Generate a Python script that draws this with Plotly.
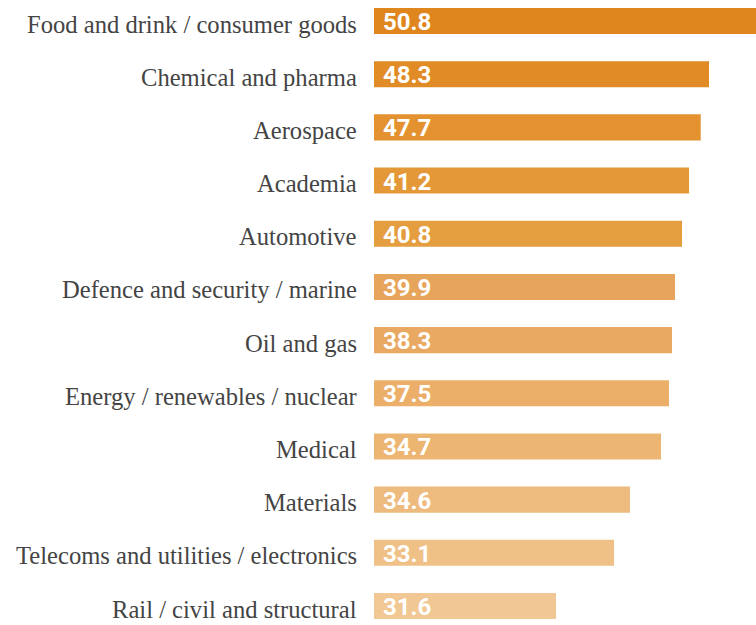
import plotly.graph_objects as go

categories = [
    "Food and drink / consumer goods",
    "Chemical and pharma",
    "Aerospace",
    "Academia",
    "Automotive",
    "Defence and security / marine",
    "Oil and gas",
    "Energy / renewables / nuclear",
    "Medical",
    "Materials",
    "Telecoms and utilities / electronics",
    "Rail / civil and structural",
]
value_labels = ["50.8", "48.3", "47.7", "41.2", "40.8", "39.9", "38.3", "37.5", "34.7", "34.6", "33.1", "31.6"]
bar_lengths = [50.8, 44.55, 43.45, 41.9, 40.96, 40.03, 39.63, 39.23, 38.17, 34.04, 31.92, 24.2]
colors = ["#E0861E", "#E18B26", "#E3922F", "#E49837", "#E59E3F", "#E7A45B", "#E9A962", "#EBAF69",
          "#ECB571", "#EEBB7F", "#EFC187", "#F1C894"]

fig = go.Figure()
fig.add_trace(go.Bar(
    x=bar_lengths, y=categories, orientation="h",
    marker=dict(color=colors, line=dict(width=0)),
    width=0.49, hoverinfo="skip",
))
for cat, lab in zip(categories, value_labels):
    fig.add_annotation(x=0, y=cat, text=lab, showarrow=False, xanchor="left", xshift=7,
                       yshift=-1, font=dict(family="Roboto", size=24, color="white", weight="bold"))
    fig.add_annotation(x=0, xref="paper", y=cat, text=cat, showarrow=False, xanchor="right",
                       xshift=-15, yshift=-3,
                       font=dict(family="Liberation Serif", size=24.6, color="#444444"))

fig.update_layout(
    width=756, height=625,
    margin=dict(l=374, r=0, t=0, b=0),
    paper_bgcolor="white", plot_bgcolor="white",
    showlegend=False,
    xaxis=dict(range=[0, 50.8], visible=False, fixedrange=True),
    yaxis=dict(range=[11.357, -0.395], showgrid=False, zeroline=False, showline=False,
               showticklabels=False, fixedrange=True),
)
fig.write_html("out.html", config={"displayModeBar": False},
               post_script="document.body.style.margin='0';document.body.style.overflow='hidden';")
